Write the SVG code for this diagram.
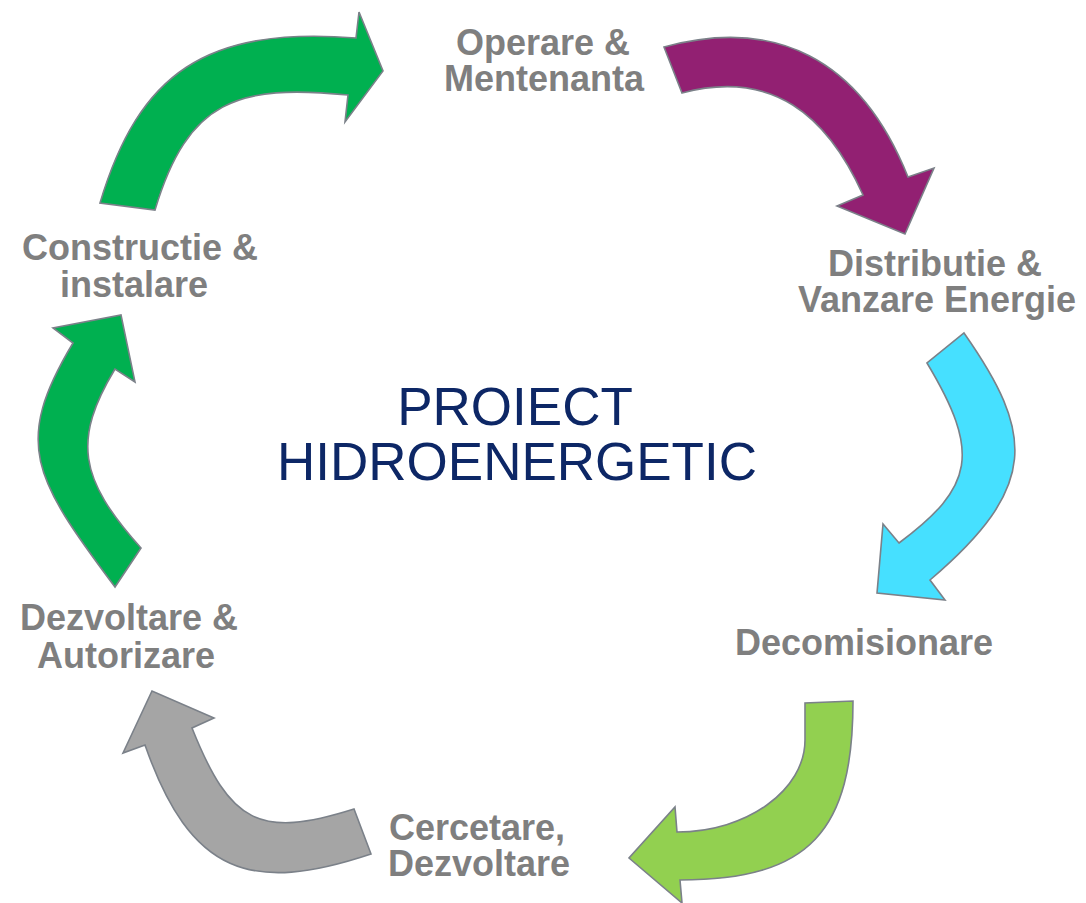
<svg xmlns="http://www.w3.org/2000/svg" width="1086" height="903" viewBox="0 0 1086 903">
<style>
.arrow{stroke:#7b8189;stroke-width:1.6;stroke-linejoin:miter}
.lbl{font-family:"Liberation Sans",Arial,sans-serif;font-weight:bold;font-size:36px;fill:#7f7f7f;text-anchor:middle}
.ctr{font-family:"Liberation Sans",Arial,sans-serif;font-size:53px;fill:#0d2766;text-anchor:middle}
</style>
<rect width="1086" height="903" fill="#ffffff"/>
<g id="connectors">
<path class="arrow" fill="#00b050" d="M100,203 C139,73 206,26 356,38 L359,12 L383,71 L345,122 L348,95 C238,84 188,100 155,210 Z"/>
<path class="arrow" fill="#922072" d="M664,47 C774,17 860,57 908,177 L934,168 L905,234 L837,206 L863,195 C827,115 772,69 682,93 Z"/>
<path class="arrow" fill="#46e0ff" d="M964,333 C1034,433 1040,486.5 930,580 L945,600 L877,593 L883,524 L899,543 C974,487 981,453 927,363 Z"/>
<path class="arrow" fill="#92d050" d="M853,701 C853,831 810,880 680,880 L682,903 L629,858 L675,807 L677,832 C747,832 805,790 805,740 L805,703 Z"/>
<path class="arrow" fill="#a5a5a5" d="M371,854 C251,894 190.5,875 145,745 L123,753 L152,691 L214,718 L192,728 C230,823 259,839 354,809 Z"/>
<path class="arrow" fill="#00b050" d="M115,587 C32.5,477 13,443 73,343 L53,328 L121,315 L135,382 L115,369 C73,439 78,478 141,548 Z"/>
</g>
<g id="center">
<text class="ctr" x="515" y="425">PROIECT</text>
<text class="ctr" x="517" y="480">HIDROENERGETIC</text>
</g>
<g id="node-operare">
<text class="lbl" x="543" y="55">Operare &amp;</text>
<text class="lbl" x="544" y="91">Mentenanta</text>
</g>
<g id="node-distributie">
<text class="lbl" x="935" y="276">Distributie &amp;</text>
<text class="lbl" x="937" y="312">Vanzare Energie</text>
</g>
<g id="node-decomisionare">
<text class="lbl" x="864" y="655">Decomisionare</text>
</g>
<g id="node-cercetare">
<text class="lbl" x="477" y="840">Cercetare,</text>
<text class="lbl" x="479" y="876">Dezvoltare</text>
</g>
<g id="node-dezvoltare">
<text class="lbl" x="129" y="630">Dezvoltare &amp;</text>
<text class="lbl" x="126" y="668">Autorizare</text>
</g>
<g id="node-constructie">
<text class="lbl" x="140" y="260">Constructie &amp;</text>
<text class="lbl" x="134" y="297">instalare</text>
</g>
</svg>
